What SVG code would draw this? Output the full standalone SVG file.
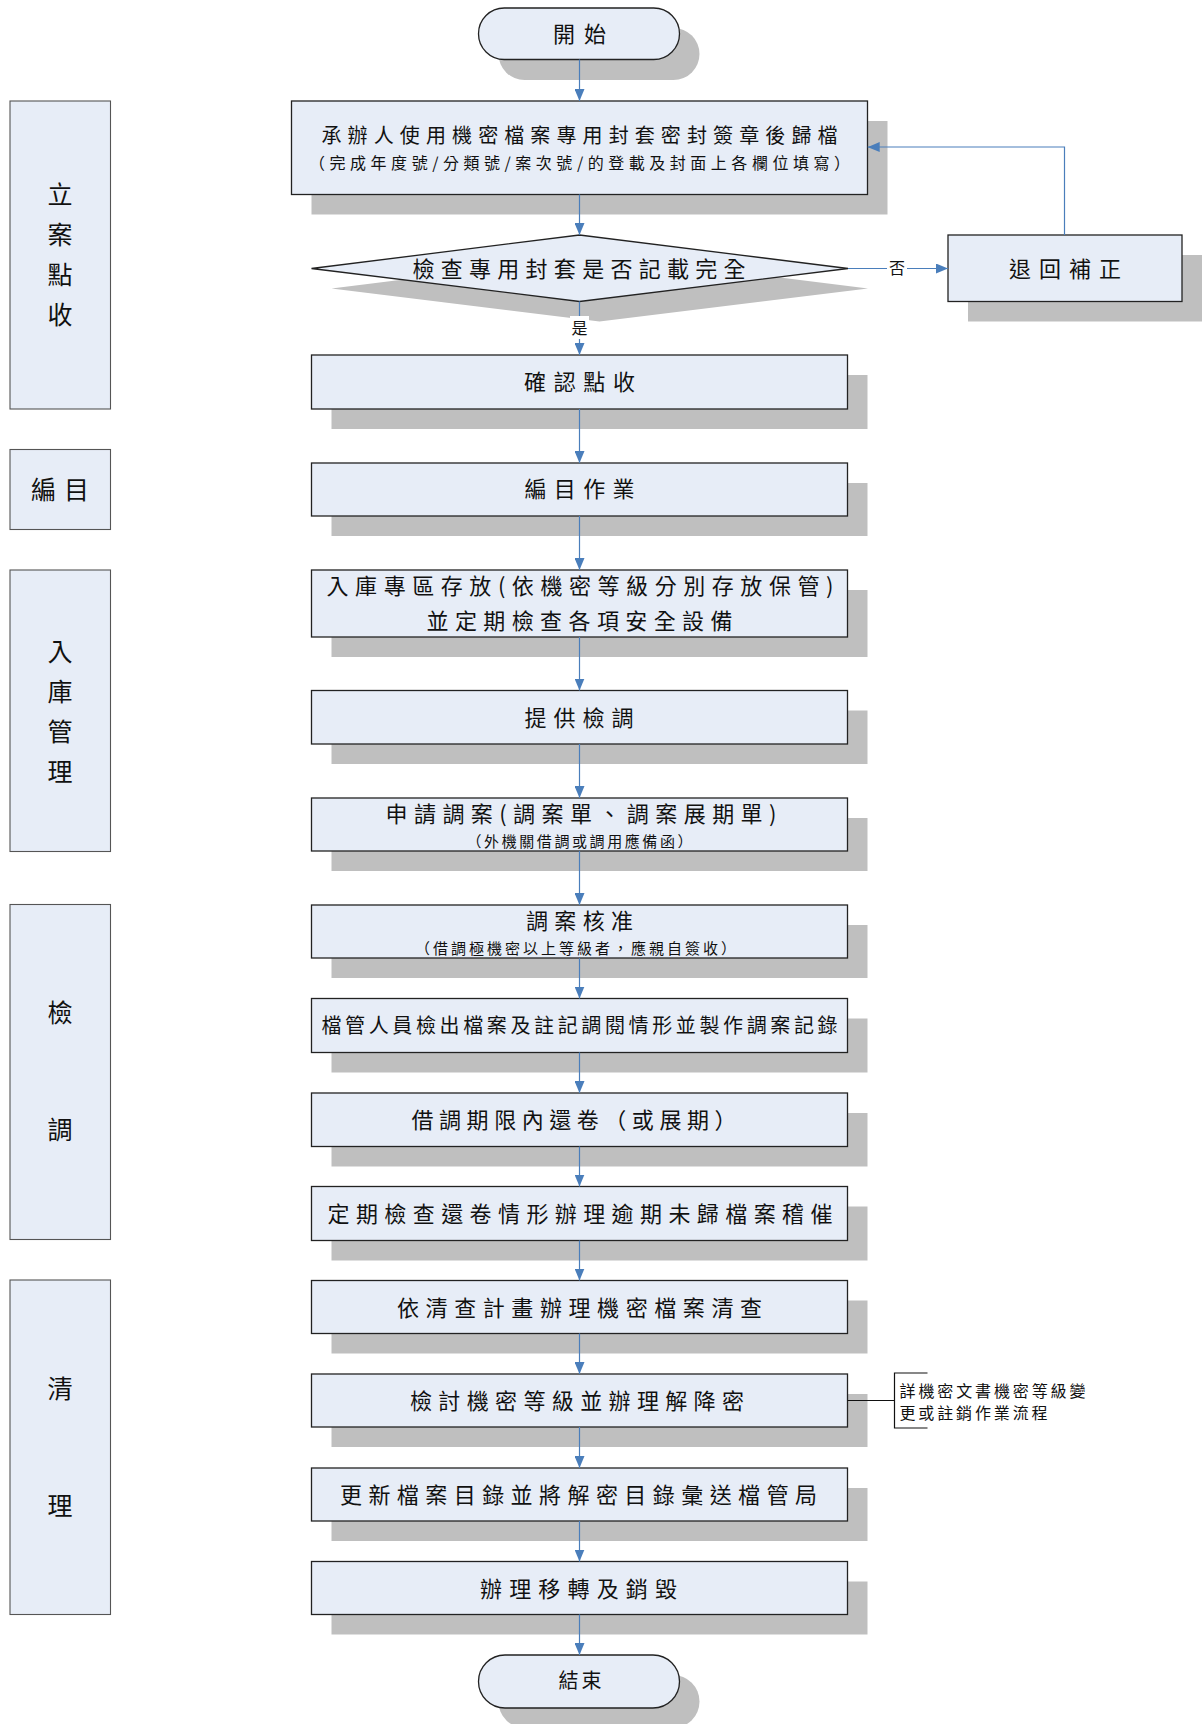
<svg xmlns="http://www.w3.org/2000/svg" width="1202" height="1724" viewBox="0 0 1202 1724">
<style>
.bg{fill:#ffffff}
.sh{fill:#bfbfbf;stroke:none}
.box{fill:#e7edf7;stroke:#222222;stroke-width:1.3}
.lane{fill:#e7edf7;stroke:#555555;stroke-width:1.1}
.t{font-family:"Noto Sans CJK TC","Noto Sans CJK SC",sans-serif;fill:#111111;text-anchor:middle;dominant-baseline:central}
.f22{font-size:22px}
.f20{font-size:20px}
.f16{font-size:16px}
.f15{font-size:15px}
.f26{font-size:25px}
.cn{fill:none;stroke:#4a7ebb;stroke-width:1.2}
.lbl{fill:#ffffff;stroke:none}
.note{fill:none;stroke:#111111;stroke-width:1.2}
</style>
<defs>
<marker id="ah" viewBox="0 0 12 10" refX="12" refY="5" markerWidth="12" markerHeight="10" orient="auto" markerUnits="userSpaceOnUse">
<path d="M0,0 L12,5 L0,10 z" fill="#4a7ebb"/>
</marker>
</defs>
<rect class="bg" x="0" y="0" width="1202" height="1724"/>

<!-- lanes -->
<g id="lane-lian">
<rect class="lane" x="10" y="101" width="100.5" height="308"/>
<text class="t f26" x="60" y="193">立</text>
<text class="t f26" x="60" y="233">案</text>
<text class="t f26" x="60" y="273">點</text>
<text class="t f26" x="60" y="313">收</text>
</g>
<g id="lane-bianmu">
<rect class="lane" x="10" y="449.5" width="100.5" height="80"/>
<text class="t f26" x="60" y="488" textLength="58" lengthAdjust="spacing">編目</text>
</g>
<g id="lane-ruku">
<rect class="lane" x="10" y="570" width="100.5" height="281.5"/>
<text class="t f26" x="60" y="650">入</text>
<text class="t f26" x="60" y="690">庫</text>
<text class="t f26" x="60" y="730">管</text>
<text class="t f26" x="60" y="770">理</text>
</g>
<g id="lane-jiandiao">
<rect class="lane" x="10" y="904.5" width="100.5" height="335"/>
<text class="t f26" x="60" y="1011">檢</text>
<text class="t f26" x="60" y="1128">調</text>
</g>
<g id="lane-qingli">
<rect class="lane" x="10" y="1280" width="100.5" height="334.5"/>
<text class="t f26" x="60" y="1387">清</text>
<text class="t f26" x="60" y="1504">理</text>
</g>

<!-- nodes -->
<g id="start">
<rect class="sh" x="498.5" y="28" width="201" height="52" rx="26"/>
<rect class="box" x="478.5" y="8" width="201" height="51.5" rx="25.75"/>
<text class="t f22" x="579.5" y="31.5" textLength="53" lengthAdjust="spacing">開始</text>
</g>
<g id="n1">
<rect class="sh" x="311.5" y="121" width="576" height="93.5"/>
<rect class="box" x="291.5" y="101" width="576" height="93.5"/>
<text class="t f20" x="579.5" y="134" textLength="516" lengthAdjust="spacing">承辦人使用機密檔案專用封套密封簽章後歸檔</text>
<text class="t f16" x="579.5" y="162" textLength="541" lengthAdjust="spacing">（完成年度號/分類號/案次號/的登載及封面上各欄位填寫）</text>
</g>
<g id="decision">
<polygon class="sh" points="331.5,288.5 599.5,255 868,288.5 599.5,321.5"/>
<polygon class="box" points="311.5,268.5 579.5,235 848,268.5 579.5,301.5"/>
<text class="t f22" x="579" y="267" textLength="333" lengthAdjust="spacing">檢查專用封套是否記載完全</text>
</g>
<g id="return">
<rect class="sh" x="968" y="255" width="234" height="66.5"/>
<rect class="box" x="948" y="235" width="234" height="66.5"/>
<text class="t f22" x="1065" y="267" textLength="112" lengthAdjust="spacing">退回補正</text>
</g>
<g id="n2">
<rect class="sh" x="331.5" y="375" width="536" height="54"/>
<rect class="box" x="311.5" y="355" width="536" height="54"/>
<text class="t f22" x="579.5" y="380" textLength="111" lengthAdjust="spacing">確認點收</text>
</g>
<g id="n3">
<rect class="sh" x="331.5" y="483" width="536" height="53"/>
<rect class="box" x="311.5" y="463" width="536" height="53"/>
<text class="t f22" x="579.5" y="487" textLength="110" lengthAdjust="spacing">編目作業</text>
</g>
<g id="n4">
<rect class="sh" x="331.5" y="590" width="536" height="67"/>
<rect class="box" x="311.5" y="570" width="536" height="67"/>
<text class="t f22" x="580" y="584" textLength="507" lengthAdjust="spacing">入庫專區存放(依機密等級分別存放保管)</text>
<text class="t f22" x="579.5" y="619" textLength="306" lengthAdjust="spacing">並定期檢查各項安全設備</text>
</g>
<g id="n5">
<rect class="sh" x="331.5" y="710.5" width="536" height="53.5"/>
<rect class="box" x="311.5" y="690.5" width="536" height="53.5"/>
<text class="t f22" x="579" y="715.5" textLength="109" lengthAdjust="spacing">提供檢調</text>
</g>
<g id="n6">
<rect class="sh" x="331.5" y="818" width="536" height="53"/>
<rect class="box" x="311.5" y="798" width="536" height="53"/>
<text class="t f22" x="581" y="811.5" textLength="391" lengthAdjust="spacing">申請調案(調案單、調案展期單)</text>
<text class="t f15" x="579.5" y="840" textLength="226" lengthAdjust="spacing">（外機關借調或調用應備函）</text>
</g>
<g id="n7">
<rect class="sh" x="331.5" y="925" width="536" height="53"/>
<rect class="box" x="311.5" y="905" width="536" height="53"/>
<text class="t f22" x="579.5" y="918.5" textLength="107" lengthAdjust="spacing">調案核准</text>
<text class="t f15" x="575.5" y="947.5" textLength="321" lengthAdjust="spacing">（借調極機密以上等級者，應親自簽收）</text>
</g>
<g id="n8">
<rect class="sh" x="331.5" y="1018.5" width="536" height="54"/>
<rect class="box" x="311.5" y="998.5" width="536" height="54"/>
<text class="t f20" x="579.5" y="1024.5" textLength="516" lengthAdjust="spacing">檔管人員檢出檔案及註記調閱情形並製作調案記錄</text>
</g>
<g id="n9">
<rect class="sh" x="331.5" y="1113" width="536" height="53.5"/>
<rect class="box" x="311.5" y="1093" width="536" height="53.5"/>
<text class="t f22" x="574" y="1117.5" textLength="325" lengthAdjust="spacing">借調期限內還卷（或展期）</text>
</g>
<g id="n10">
<rect class="sh" x="331.5" y="1206.5" width="536" height="54"/>
<rect class="box" x="311.5" y="1186.5" width="536" height="54"/>
<text class="t f22" x="580" y="1211.5" textLength="505" lengthAdjust="spacing">定期檢查還卷情形辦理逾期未歸檔案稽催</text>
</g>
<g id="n11">
<rect class="sh" x="331.5" y="1300.5" width="536" height="53"/>
<rect class="box" x="311.5" y="1280.5" width="536" height="53"/>
<text class="t f22" x="579.5" y="1305.5" textLength="365" lengthAdjust="spacing">依清查計畫辦理機密檔案清查</text>
</g>
<g id="n12">
<rect class="sh" x="331.5" y="1394" width="536" height="53"/>
<rect class="box" x="311.5" y="1374" width="536" height="53"/>
<text class="t f22" x="577" y="1398.5" textLength="334" lengthAdjust="spacing">檢討機密等級並辦理解降密</text>
</g>
<g id="note">
<polyline class="note" points="847.5,1400.5 894.5,1400.5"/>
<polyline class="note" points="927.5,1373 894.5,1373 894.5,1428 927.5,1428"/>
<text class="t f16" x="992.5" y="1389.5" textLength="186" lengthAdjust="spacing">詳機密文書機密等級變</text>
<text class="t f16" x="973.5" y="1411.5" textLength="148" lengthAdjust="spacing">更或註銷作業流程</text>
</g>
<g id="n13">
<rect class="sh" x="331.5" y="1488" width="536" height="53"/>
<rect class="box" x="311.5" y="1468" width="536" height="53"/>
<text class="t f22" x="578.5" y="1492.5" textLength="477" lengthAdjust="spacing">更新檔案目錄並將解密目錄彙送檔管局</text>
</g>
<g id="n14">
<rect class="sh" x="331.5" y="1581.5" width="536" height="53"/>
<rect class="box" x="311.5" y="1561.5" width="536" height="53"/>
<text class="t f22" x="578.5" y="1586.5" textLength="197" lengthAdjust="spacing">辦理移轉及銷毀</text>
</g>
<g id="end">
<rect class="sh" x="498.5" y="1675" width="201" height="53" rx="26.5"/>
<rect class="box" x="478.5" y="1655" width="201" height="53" rx="26.5"/>
<text class="t f20" x="580" y="1679.5" textLength="43" lengthAdjust="spacing">結束</text>
</g>

<!-- connectors -->
<g id="connectors">
<line class="cn" x1="579.5" y1="59.5" x2="579.5" y2="101" marker-end="url(#ah)"/>
<line class="cn" x1="579.5" y1="194.5" x2="579.5" y2="235" marker-end="url(#ah)"/>
<line class="cn" x1="579.5" y1="301.5" x2="579.5" y2="355" marker-end="url(#ah)"/>
<line class="cn" x1="848" y1="268.5" x2="948" y2="268.5" marker-end="url(#ah)"/>
<polyline class="cn" points="1064.5,235 1064.5,147 867.7,147" marker-end="url(#ah)"/>
<line class="cn" x1="579.5" y1="409" x2="579.5" y2="463" marker-end="url(#ah)"/>
<line class="cn" x1="579.5" y1="516" x2="579.5" y2="570" marker-end="url(#ah)"/>
<line class="cn" x1="579.5" y1="637" x2="579.5" y2="690.5" marker-end="url(#ah)"/>
<line class="cn" x1="579.5" y1="744" x2="579.5" y2="798" marker-end="url(#ah)"/>
<line class="cn" x1="579.5" y1="851" x2="579.5" y2="905" marker-end="url(#ah)"/>
<line class="cn" x1="579.5" y1="958" x2="579.5" y2="998.5" marker-end="url(#ah)"/>
<line class="cn" x1="579.5" y1="1052.5" x2="579.5" y2="1093" marker-end="url(#ah)"/>
<line class="cn" x1="579.5" y1="1146.5" x2="579.5" y2="1186.5" marker-end="url(#ah)"/>
<line class="cn" x1="579.5" y1="1240.5" x2="579.5" y2="1280.5" marker-end="url(#ah)"/>
<line class="cn" x1="579.5" y1="1333.5" x2="579.5" y2="1374" marker-end="url(#ah)"/>
<line class="cn" x1="579.5" y1="1427" x2="579.5" y2="1468" marker-end="url(#ah)"/>
<line class="cn" x1="579.5" y1="1521" x2="579.5" y2="1561.5" marker-end="url(#ah)"/>
<line class="cn" x1="579.5" y1="1614.5" x2="579.5" y2="1655" marker-end="url(#ah)"/>
<rect class="lbl" x="570" y="316" width="19" height="23"/>
<text class="t f16" x="579.5" y="326.5">是</text>
<rect class="lbl" x="887" y="258" width="20" height="21"/>
<text class="t f16" x="897" y="267">否</text>
</g>
</svg>
